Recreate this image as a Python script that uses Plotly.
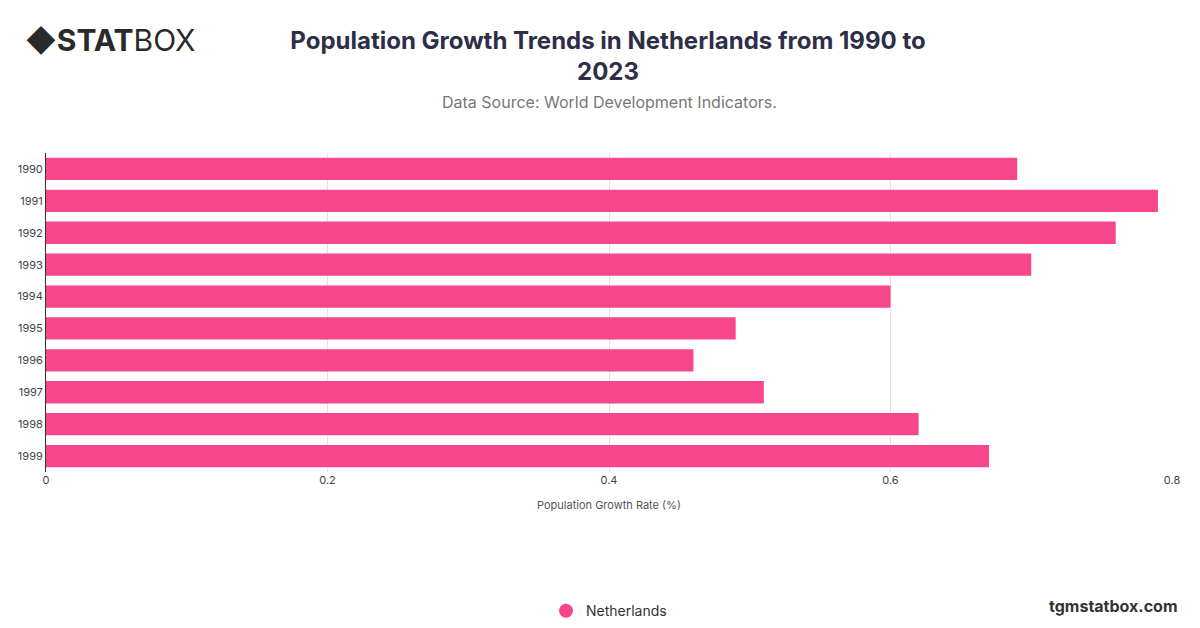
import plotly.graph_objects as go

years = ["1990","1991","1992","1993","1994","1995","1996","1997","1998","1999"]
values = [0.69, 0.79, 0.76, 0.70, 0.60, 0.49, 0.46, 0.51, 0.62, 0.67]
series_name = "Netherlands"

fig = go.Figure()
fig.add_trace(go.Bar(
    y=years, x=values, orientation="h", name=series_name,
    marker=dict(color="#f7478a", line=dict(width=0)),
    width=0.7, showlegend=False,
))
fig.add_trace(go.Scatter(
    x=[None], y=[None], mode="markers", name=series_name,
    marker=dict(color="#f7478a", size=14, symbol="circle"),
))

fig.update_layout(
    width=1200, height=628,
    paper_bgcolor="white", plot_bgcolor="white",
    margin=dict(l=38, r=36, t=145, b=164, autoexpand=False),
    font=dict(family="Inter, Roboto, sans-serif", color="#333"),
    title=dict(text="<b>Population Growth Trends in Netherlands from 1990 to<br>2023</b>",
               x=0.5, xanchor="center", y=0.935, yanchor="top",
               font=dict(size=24, color="#2e2e48")),
    xaxis=dict(range=[0, 0.8], tickvals=[0, 0.2, 0.4, 0.6, 0.8],
               ticktext=["0", "0.2", "0.4", "0.6", "0.8"],
               showgrid=True, gridcolor="#e3e3e3", zeroline=False, automargin=False,
               tickfont=dict(size=11, color="#444"),
               title=dict(text="Population Growth Rate (%)", font=dict(size=11, color="#555"))),
    yaxis=dict(categoryorder="array", categoryarray=years, autorange="reversed",
               showline=True, linecolor="#333", linewidth=1, automargin=False,
               tickfont=dict(size=11, color="#444"), ticks=""),
    legend=dict(orientation="h", x=0.5, xanchor="center", y=-0.436, yanchor="middle",
                font=dict(size=14, color="#333")),
    bargap=0.3,
)
fig.add_annotation(text="Data Source: World Development Indicators.", xref="paper", yref="paper",
                   x=0.5, y=1.16, xanchor="center", yanchor="middle", showarrow=False,
                   font=dict(size=16, color="#777"))
fig.add_annotation(text="<b>◆STAT</b>BOX", xref="paper", yref="paper",
                   x=-0.02, y=1.354, xanchor="left", yanchor="middle", showarrow=False,
                   font=dict(size=30, color="#2a2a2a"))
fig.add_annotation(text="<b>tgmstatbox.com</b>", xref="paper", yref="paper",
                   x=1.007, y=-0.42, xanchor="right", yanchor="middle", showarrow=False,
                   font=dict(size=16, color="#333"))
fig.write_html("out.html")
